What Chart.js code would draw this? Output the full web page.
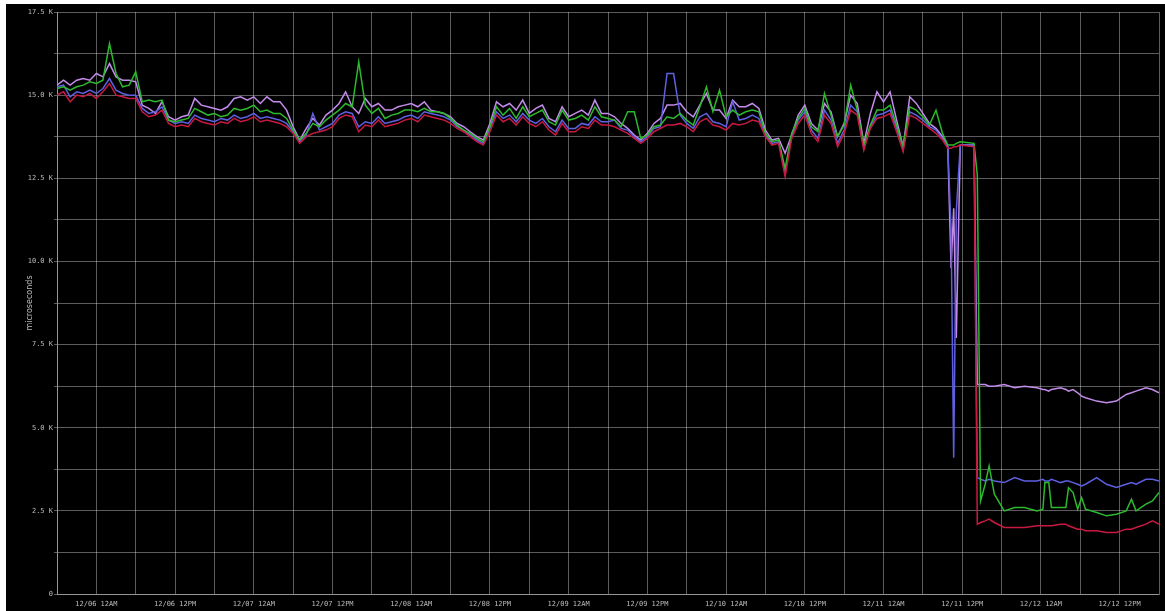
<!DOCTYPE html>
<html>
<head>
<meta charset="utf-8">
<title>microseconds</title>
<script src="https://cdn.jsdelivr.net/npm/chart.js@4/dist/chart.umd.min.js"></script>
<style>
    html, body { margin: 0; padding: 0; background: #fff; }
    .chart-box {
        position: absolute;
        left: 6px;
        top: 4px;
        width: 1159px;
        height: 607px;
        background: #000;
    }
</style>
</head>
<body>
<div class="chart-box"><canvas id="latencyChart"></canvas></div>
<script>
// hours since 12/05 6PM
const hours = [
    0, 1, 2, 3, 4, 5, 6, 7, 8, 9, 10, 11, 12, 13, 14, 15, 16, 17, 18, 19,
    20, 21, 22, 23, 24, 25, 26, 27, 28, 29, 30, 31, 32, 33, 34, 35, 36, 37, 38, 39,
    40, 41, 42, 43, 44, 45, 46, 47, 48, 49, 50, 51, 52, 53, 54, 55, 56, 57, 58, 59,
    60, 61, 62, 63, 64, 65, 66, 67, 68, 69, 70, 71, 72, 73, 74, 75, 76, 77, 78, 79,
    80, 81, 82, 83, 84, 85, 86, 87, 88, 89, 90, 91, 92, 93, 94, 95, 96, 97, 98, 99,
    100, 101, 102, 103, 104, 105, 106, 107, 108, 109, 110, 111, 112, 113, 114, 115, 116, 117, 118, 119,
    120, 121, 122, 123, 124, 125, 126, 127, 128, 129, 130, 131, 132, 133, 134, 135,
    135.8, 136.3, 136.7, 137.1, 137.7, 139.8, 140.3, 140.8, 141.5, 142.1, 142.9, 144.4,
    146, 147.5, 149.4, 150.3, 150.6, 151.2, 151.6, 153, 153.8, 154.2, 154.9, 155.6,
    156.2, 156.8, 158.5, 160, 161.5, 163, 163.8, 164.5, 166, 167, 168
];

// values in thousands of microseconds
const purpleSeries = [
    15.30, 15.45, 15.30, 15.45, 15.50, 15.45, 15.65, 15.55, 15.95, 15.55, 15.45, 15.45, 15.40, 14.70, 14.60, 14.45, 14.80, 14.35, 14.25, 14.35,
    14.40, 14.90, 14.70, 14.65, 14.60, 14.55, 14.65, 14.90, 14.95, 14.85, 14.95, 14.75, 14.95, 14.80, 14.80, 14.55, 14.05, 13.65, 14.00, 14.30,
    14.10, 14.40, 14.55, 14.75, 15.10, 14.65, 14.45, 14.90, 14.65, 14.75, 14.55, 14.55, 14.65, 14.70, 14.75, 14.65, 14.80, 14.55, 14.50, 14.45,
    14.35, 14.15, 14.05, 13.90, 13.75, 13.65, 14.15, 14.80, 14.65, 14.75, 14.55, 14.85, 14.45, 14.60, 14.70, 14.30, 14.20, 14.65, 14.35, 14.45,
    14.55, 14.40, 14.85, 14.45, 14.45, 14.35, 14.15, 14.00, 13.80, 13.65, 13.85, 14.15, 14.30, 14.70, 14.70, 14.75, 14.50, 14.35, 14.70, 15.05,
    14.55, 14.55, 14.30, 14.85, 14.65, 14.65, 14.75, 14.60, 13.95, 13.65, 13.70, 13.25, 13.80, 14.40, 14.70, 14.15, 13.95, 14.75, 14.50, 13.75,
    14.15, 15.00, 14.75, 13.55, 14.45, 15.10, 14.80, 15.10, 14.25, 13.45, 14.95, 14.75, 14.45, 14.15, 14.00, 13.75,
    13.45, 9.80, 11.60, 7.70, 13.50, 13.50, 6.30, 6.30, 6.30, 6.25, 6.25, 6.30,
    6.20, 6.25, 6.20, 6.15, 6.15, 6.10, 6.15, 6.20, 6.15, 6.10, 6.15, 6.05,
    5.95, 5.90, 5.80, 5.75, 5.80, 6.00, 6.05, 6.10, 6.20, 6.15, 6.05
];

const greenSeries = [
    15.20, 15.25, 15.15, 15.25, 15.30, 15.40, 15.35, 15.45, 16.55, 15.65, 15.25, 15.30, 15.70, 14.80, 14.85, 14.80, 14.85, 14.25, 14.20, 14.25,
    14.30, 14.60, 14.50, 14.40, 14.45, 14.35, 14.40, 14.60, 14.55, 14.60, 14.70, 14.50, 14.55, 14.45, 14.45, 14.30, 13.95, 13.65, 13.85, 14.15,
    14.05, 14.25, 14.40, 14.55, 14.75, 14.65, 16.00, 14.70, 14.45, 14.60, 14.30, 14.40, 14.45, 14.55, 14.55, 14.50, 14.60, 14.50, 14.50, 14.45,
    14.30, 14.10, 13.95, 13.85, 13.70, 13.60, 14.05, 14.65, 14.40, 14.60, 14.30, 14.65, 14.35, 14.45, 14.55, 14.20, 14.10, 14.55, 14.25, 14.30,
    14.40, 14.25, 14.65, 14.35, 14.30, 14.25, 14.05, 14.50, 14.50, 13.70, 13.80, 14.05, 14.10, 14.35, 14.30, 14.45, 14.25, 14.10, 14.65, 15.25,
    14.50, 15.15, 14.35, 14.55, 14.40, 14.50, 14.55, 14.50, 13.85, 13.60, 13.65, 12.80, 13.85, 14.30, 14.60, 14.05, 13.90, 15.05, 14.40, 13.75,
    14.10, 15.30, 14.55, 13.50, 14.10, 14.55, 14.55, 14.70, 14.10, 13.45, 14.65, 14.55, 14.35, 14.10, 14.55, 13.85,
    13.50, 13.50, 13.50, 13.55, 13.60, 13.55, 12.60, 2.80, 3.30, 3.85, 3.00, 2.50,
    2.60, 2.60, 2.50, 2.55, 3.35, 3.35, 2.60, 2.60, 2.60, 3.20, 3.05, 2.55,
    2.90, 2.55, 2.45, 2.35, 2.40, 2.50, 2.85, 2.50, 2.70, 2.80, 3.05
];

const blueSeries = [
    15.25, 15.30, 14.95, 15.10, 15.05, 15.15, 15.05, 15.20, 15.50, 15.15, 15.05, 15.00, 15.00, 14.60, 14.45, 14.50, 14.65, 14.25, 14.15, 14.20,
    14.15, 14.40, 14.30, 14.25, 14.20, 14.30, 14.25, 14.40, 14.30, 14.35, 14.45, 14.30, 14.35, 14.30, 14.25, 14.15, 13.90, 13.60, 13.80, 14.45,
    13.95, 14.05, 14.15, 14.40, 14.50, 14.45, 14.05, 14.20, 14.15, 14.35, 14.15, 14.20, 14.25, 14.35, 14.40, 14.30, 14.50, 14.45, 14.40, 14.35,
    14.25, 14.05, 13.95, 13.80, 13.65, 13.55, 14.00, 14.50, 14.30, 14.40, 14.20, 14.45, 14.25, 14.15, 14.30, 14.05, 13.90, 14.25, 14.00, 14.00,
    14.15, 14.10, 14.35, 14.20, 14.20, 14.25, 14.00, 13.95, 13.75, 13.60, 13.75, 14.00, 14.05, 15.65, 15.65, 14.40, 14.15, 14.00, 14.35, 14.45,
    14.20, 14.15, 14.05, 14.80, 14.25, 14.30, 14.40, 14.30, 13.80, 13.55, 13.60, 12.70, 13.75, 14.25, 14.50, 13.95, 13.70, 14.55, 14.25, 13.55,
    13.95, 14.70, 14.50, 13.40, 14.05, 14.40, 14.45, 14.55, 14.00, 13.40, 14.50, 14.40, 14.25, 14.05, 13.95, 13.70,
    13.45, 11.00, 4.10, 11.50, 13.50, 13.50, 3.50, 3.45, 3.40, 3.45, 3.40, 3.35,
    3.50, 3.40, 3.40, 3.45, 3.40, 3.40, 3.45, 3.35, 3.40, 3.40, 3.35, 3.30,
    3.25, 3.30, 3.50, 3.30, 3.20, 3.30, 3.35, 3.30, 3.45, 3.45, 3.40
];

const redSeries = [
    15.00, 15.10, 14.80, 15.00, 14.95, 15.05, 14.90, 15.10, 15.35, 15.00, 14.95, 14.90, 14.90, 14.50, 14.35, 14.40, 14.55, 14.15, 14.05, 14.10,
    14.05, 14.30, 14.20, 14.15, 14.10, 14.20, 14.15, 14.30, 14.20, 14.25, 14.35, 14.20, 14.25, 14.20, 14.15, 14.05, 13.85, 13.55, 13.75, 13.85,
    13.90, 13.95, 14.05, 14.30, 14.40, 14.35, 13.90, 14.10, 14.05, 14.25, 14.05, 14.10, 14.15, 14.25, 14.30, 14.20, 14.40, 14.35, 14.30, 14.25,
    14.15, 14.00, 13.90, 13.75, 13.60, 13.50, 13.90, 14.40, 14.20, 14.30, 14.10, 14.35, 14.15, 14.05, 14.20, 13.95, 13.80, 14.15, 13.90, 13.90,
    14.05, 14.00, 14.25, 14.10, 14.10, 14.05, 13.95, 13.85, 13.70, 13.55, 13.70, 13.90, 14.00, 14.10, 14.10, 14.15, 14.05, 13.90, 14.20, 14.30,
    14.10, 14.05, 13.95, 14.15, 14.10, 14.15, 14.25, 14.20, 13.75, 13.50, 13.55, 12.55, 13.70, 14.15, 14.40, 13.85, 13.60, 14.40, 14.15, 13.45,
    13.85, 14.55, 14.40, 13.35, 14.00, 14.30, 14.35, 14.45, 13.90, 13.30, 14.40, 14.30, 14.15, 14.00, 13.85, 13.65,
    13.40, 13.40, 13.45, 13.45, 13.50, 13.45, 2.10, 2.15, 2.20, 2.25, 2.15, 2.00,
    2.00, 2.00, 2.05, 2.05, 2.05, 2.05, 2.05, 2.10, 2.10, 2.05, 2.00, 1.95,
    1.95, 1.90, 1.90, 1.85, 1.85, 1.95, 1.95, 2.00, 2.10, 2.20, 2.10
];

// vertical grid every 6 hours, labels every 12 hours
const xGridHours = [0, 6, 12, 18, 24, 30, 36, 42, 48, 54, 60, 66, 72, 78, 84, 90, 96, 102, 108, 114, 120, 126, 132, 138, 144, 150, 156, 162, 168];
const xLabelHours = [6, 18, 30, 42, 54, 66, 78, 90, 102, 114, 126, 138, 150, 162];
const xLabels = [
    '12/06 12AM', '12/06 12PM', '12/07 12AM', '12/07 12PM', '12/08 12AM', '12/08 12PM', '12/09 12AM',
    '12/09 12PM', '12/10 12AM', '12/10 12PM', '12/11 12AM', '12/11 12PM', '12/12 12AM', '12/12 12PM'
];
const yGridValues = [0, 1.25, 2.5, 3.75, 5, 6.25, 7.5, 8.75, 10, 11.25, 12.5, 13.75, 15, 16.25, 17.5];
const yLabelValues = [0, 2.5, 5, 7.5, 10, 12.5, 15, 17.5];
const yLabels = ['0', '2.5 K', '5.0 K', '7.5 K', '10.0 K', '12.5 K', '15.0 K', '17.5 K'];

const toPoints = (values) => values.map((v, i) => ({ x: hours[i], y: v }));

document.addEventListener("DOMContentLoaded", () => {
    const ctx = document.getElementById('latencyChart').getContext('2d');
    const gridColor = 'rgba(255, 255, 255, 0.36)';
    const tickFont = { family: 'DejaVu Sans Mono', size: 7 };

    const line = (label, values, color) => ({
        label: label,
        data: toPoints(values),
        borderColor: color,
        borderWidth: 1.5,
        pointRadius: 0,
        tension: 0,
        fill: false
    });

    new Chart(ctx, {
        type: 'line',
        data: {
            datasets: [
                line('red', redSeries, 'rgb(200, 25, 65)'),
                line('green', greenSeries, 'rgb(45, 185, 45)'),
                line('blue', blueSeries, 'rgb(95, 95, 225)'),
                line('purple', purpleSeries, 'rgb(195, 140, 235)')
            ]
        },
        options: {
            responsive: true,
            maintainAspectRatio: false,
            animation: false,
            layout: { padding: { top: 8, right: 0, left: 0, bottom: 0 } },
            plugins: {
                legend: { display: false },
                tooltip: { enabled: false }
            },
            scales: {
                x: {
                    type: 'linear',
                    min: 0,
                    max: 168,
                    afterBuildTicks: (axis) => {
                        axis.ticks = xGridHours.map(v => ({ value: v }));
                    },
                    afterFit: (axis) => { axis.height = 17; },
                    grid: { color: gridColor, drawTicks: false },
                    border: { color: gridColor },
                    ticks: {
                        autoSkip: false,
                        maxRotation: 0,
                        padding: 6,
                        color: '#bbbbbb',
                        font: tickFont,
                        callback: (value) => {
                            const i = xLabelHours.indexOf(value);
                            return i >= 0 ? xLabels[i] : '';
                        }
                    }
                },
                y: {
                    min: 0,
                    max: 17.5,
                    afterBuildTicks: (axis) => {
                        axis.ticks = yGridValues.map(v => ({ value: v }));
                    },
                    afterFit: (axis) => { axis.width = 51; },
                    grid: { color: gridColor, tickLength: 3 },
                    border: { color: gridColor },
                    title: {
                        display: true,
                        text: 'microseconds',
                        color: '#bbbbbb',
                        font: { family: 'DejaVu Sans', size: 8 },
                        padding: { top: 19, bottom: 0 }
                    },
                    ticks: {
                        autoSkip: false,
                        padding: 1,
                        color: '#bbbbbb',
                        font: tickFont,
                        callback: (value) => {
                            const i = yLabelValues.indexOf(value);
                            return i >= 0 ? yLabels[i] : '';
                        }
                    }
                }
            }
        }
    });
});
</script>
</body>
</html>
